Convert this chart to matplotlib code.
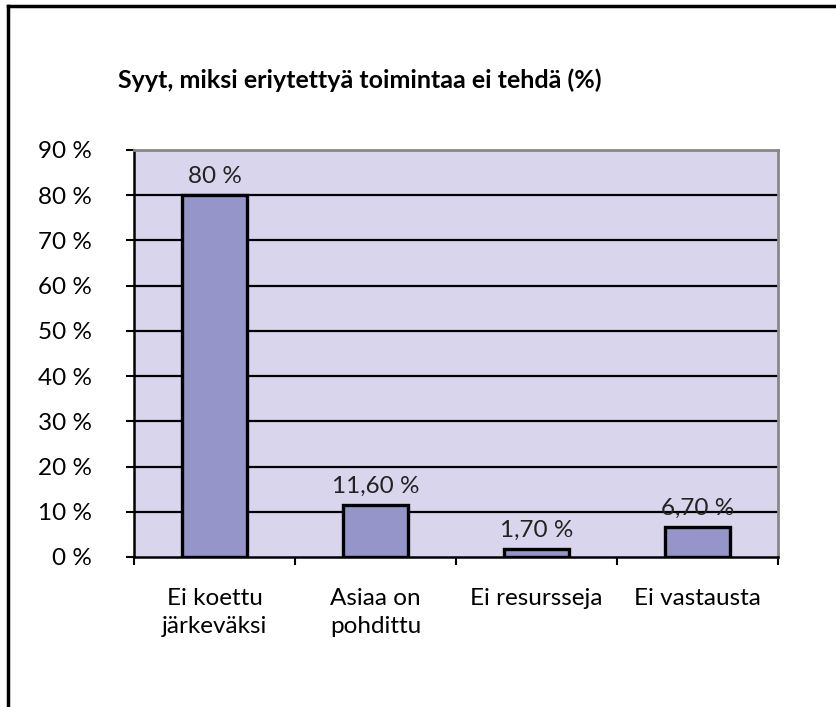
import numpy as np
import matplotlib.pyplot as plt
from matplotlib.lines import Line2D

# data
categories = ['Ei koettu\njärkeväksi', 'Asiaa on\npohdittu', 'Ei resursseja', 'Ei vastausta']
values = [80, 11.6, 1.7, 6.7]
value_labels = ['80 %', '11,60 %', '1,70 %', '6,70 %']
yticks = list(range(0, 100, 10))

plt.rcParams['font.family'] = ['Lato', 'DejaVu Sans']

fig = plt.figure(figsize=(8.36, 7.07), dpi=100)
ax = fig.add_axes([0.1603, 0.2122, 0.7703, 0.5757])
ax.set_facecolor('#D9D5EC')

x = np.arange(len(categories))
for y in yticks[1:]:
    ax.axhline(y, color='black', lw=1.6, zorder=1)
ax.bar(x, values, width=0.4, color='#9595C9', edgecolor='black', linewidth=2.4, zorder=3)

for xi, v, lab in zip(x, values, value_labels):
    ax.text(xi, v + 1.8, lab, ha='center', va='bottom', fontsize=17.5, color='#222222')

ax.set_xlim(-0.5, len(categories) - 0.5)
ax.set_ylim(0, 90)
ax.set_yticks(yticks)
ax.set_yticklabels([f'{t} %' for t in yticks], fontsize=17.5)
ax.set_xticks(x)
ax.set_xticklabels(categories, fontsize=17.5, linespacing=1.45)
ax.set_xticks(np.arange(-0.5, len(categories)), minor=True)
ax.tick_params(axis='x', which='major', length=0, pad=22)
ax.tick_params(axis='x', which='minor', length=6, width=1.5, direction='out')
ax.tick_params(axis='y', length=6, width=1.5, pad=24)

ax.spines['left'].set_color('black')
ax.spines['left'].set_linewidth(1.8)
ax.spines['bottom'].set_color('black')
ax.spines['bottom'].set_linewidth(1.8)
ax.spines['top'].set_color('#888888')
ax.spines['top'].set_linewidth(2)
ax.spines['right'].set_color('#888888')
ax.spines['right'].set_linewidth(2)

fig.text(118 / 836, 1 - 80 / 707, 'Syyt, miksi eriytettyä toimintaa ei tehdä (%)',
         fontsize=18, fontweight='bold', va='center', ha='left')

# outer frame (top and left edges)
fig.add_artist(Line2D([8 / 836, 1.0], [1 - 6 / 707, 1 - 6 / 707], color='black', lw=2.5, transform=fig.transFigure))
fig.add_artist(Line2D([8 / 836, 8 / 836], [0, 1 - 6 / 707], color='black', lw=2.5, transform=fig.transFigure))

fig.savefig('out.png', dpi=100)
